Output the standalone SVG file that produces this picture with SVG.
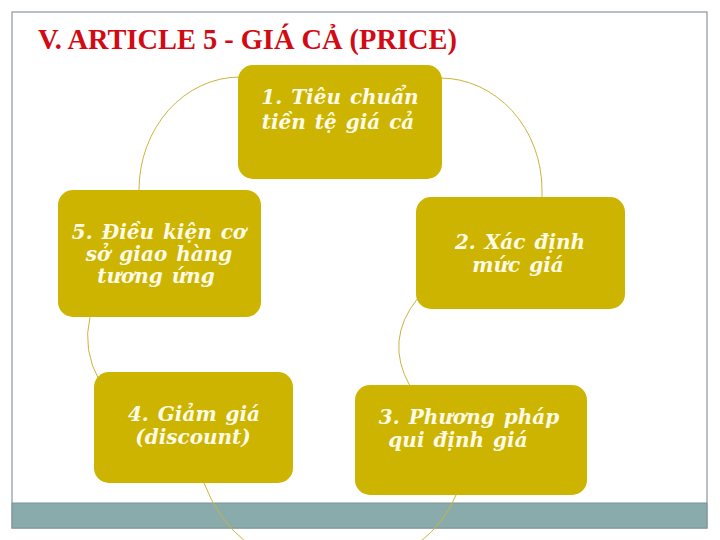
<svg xmlns="http://www.w3.org/2000/svg" width="720" height="540" viewBox="0 0 720 540">
<style>
.frame{fill:#ffffff;stroke:#8a979c;stroke-width:1.2}
.bar{fill:#8aabab;stroke:#7f9494;stroke-width:1}
.title{font-family:"Liberation Serif","Times New Roman",serif;font-weight:bold;font-size:28.4px;fill:#d20a14}
.box{fill:#ccb400}
.lbl{font-family:"DejaVu Serif","Liberation Serif",serif;font-weight:bold;font-style:italic;font-size:20px;word-spacing:2px;fill:#fffbe8;text-anchor:middle}
.arc{fill:none;stroke:#c9b53c;stroke-width:1}
</style>
<rect class="frame" x="12" y="12" width="695" height="516"/>
<rect class="bar" x="12" y="503" width="695" height="25"/>
<text class="title" x="38" y="49">V. ARTICLE 5 - GIÁ CẢ (PRICE)</text>
<g id="connectors">
<path class="arc" d="M240,77 A101,113 0 0 0 139,190"/>
<path class="arc" d="M440,78 A102,112 0 0 1 542,190 L542,197"/>
<path class="arc" d="M418,298 Q384,340 410,386"/>
<path class="arc" d="M90,317 Q82,350 100,382"/>
<path class="arc" d="M204,483 Q218,520 246,542"/>
<path class="arc" d="M456,495 Q445,522 420,542"/>
</g>
<g id="node1">
<rect class="box" x="238" y="65" width="204" height="114" rx="15"/>
<text class="lbl" x="340" y="104">1. Tiêu chuẩn</text>
<text class="lbl" x="338" y="129">tiền tệ giá cả</text>
</g>
<g id="node2">
<rect class="box" x="416" y="197" width="209" height="112" rx="15"/>
<text class="lbl" x="520" y="249">2. Xác định</text>
<text class="lbl" x="518" y="272">mức giá</text>
</g>
<g id="node3">
<rect class="box" x="355" y="385" width="232" height="110" rx="15"/>
<text class="lbl" x="469" y="424">3. Phương pháp</text>
<text class="lbl" x="458" y="447">qui định giá</text>
</g>
<g id="node4">
<rect class="box" x="94" y="372" width="199" height="111" rx="15"/>
<text class="lbl" x="194" y="421">4. Giảm giá</text>
<text class="lbl" x="193" y="444">(discount)</text>
</g>
<g id="node5">
<rect class="box" x="58" y="190" width="203" height="127" rx="15"/>
<text class="lbl" x="159" y="239">5. Điều kiện cơ</text>
<text class="lbl" x="159" y="261">sở giao hàng</text>
<text class="lbl" x="156" y="283">tương ứng</text>
</g>
</svg>
